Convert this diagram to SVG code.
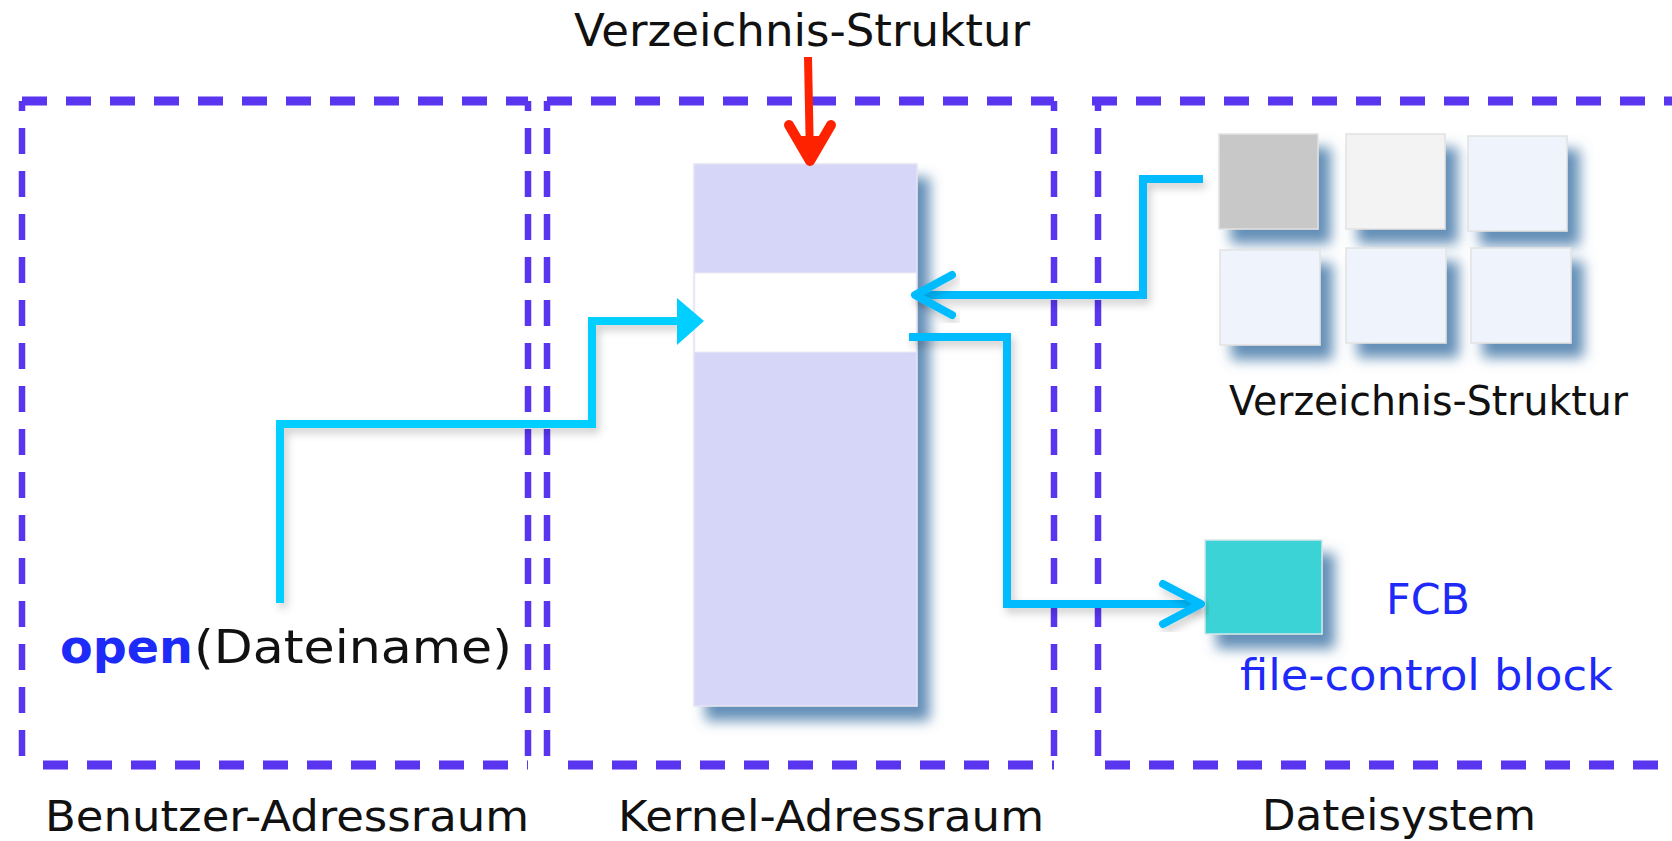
<svg xmlns="http://www.w3.org/2000/svg" width="1672" height="841" viewBox="0 0 1672 841">
<defs>
<style>
.lbl{font-family:"DejaVu Sans","Verdana",sans-serif;fill:#111;}
.blue{font-family:"DejaVu Sans","Verdana",sans-serif;fill:#1e2af8;}
.dh{stroke:#5a35f0;stroke-width:9;stroke-dasharray:25 19;fill:none;}
.dv{stroke:#5a35f0;stroke-width:6.5;stroke-dasharray:26 17;stroke-dashoffset:16;fill:none;}
.sq{stroke:#e2e2e2;stroke-width:1.5;filter:url(#sh);}
.cy1{stroke:#00cfff;stroke-width:8;fill:none;stroke-linejoin:miter;filter:url(#lsh);}
.cy2{stroke:#00bcff;stroke-width:8;fill:none;stroke-linejoin:miter;filter:url(#lsh);}
.chev{stroke-linecap:round;stroke-linejoin:round;}
</style>
<filter id="sh" x="-30%" y="-30%" width="170%" height="170%">
<feDropShadow dx="12" dy="14" stdDeviation="6.5" flood-color="#5a88b3" flood-opacity="0.95"/>
</filter>
<filter id="lsh" x="-20%" y="-20%" width="140%" height="140%">
<feDropShadow dx="3" dy="5" stdDeviation="4" flood-color="#000" flood-opacity="0.2"/>
</filter>
</defs>
<rect width="1672" height="841" fill="#fff"/>

<g id="boxes">
<g id="box-benutzer">
<line class="dh" x1="22" y1="101" x2="528" y2="101"/>
<line class="dh" x1="43" y1="765" x2="528" y2="765"/>
<line class="dv" x1="22" y1="101" x2="22" y2="765"/>
<line class="dv" x1="528" y1="101" x2="528" y2="765"/>
</g>
<g id="box-kernel">
<line class="dh" x1="547" y1="101" x2="1054" y2="101"/>
<line class="dh" x1="568" y1="765" x2="1054" y2="765"/>
<line class="dv" x1="547" y1="101" x2="547" y2="765"/>
<line class="dv" x1="1054" y1="101" x2="1054" y2="765"/>
</g>
<g id="box-dateisystem">
<line class="dh" x1="1092" y1="101" x2="1672" y2="101"/>
<line class="dh" x1="1105" y1="765" x2="1672" y2="765"/>
<line class="dv" x1="1098" y1="101" x2="1098" y2="765"/>
</g>
</g>

<g id="kernel-column">
<rect x="694" y="164" width="223" height="542" fill="#d6d6f9" stroke="#e4e4f0" stroke-width="1.5" filter="url(#sh)"/>
<rect x="694.8" y="273" width="221.4" height="79" fill="#ffffff" stroke="#ececf4" stroke-width="1"/>
</g>

<g id="dir-structure">
<rect class="sq" x="1219" y="134" width="99" height="95" fill="#c8c8c8"/>
<rect class="sq" x="1346" y="134" width="99" height="95" fill="#f3f3f3"/>
<rect class="sq" x="1468" y="136" width="99" height="95" fill="#eff3fb"/>
<rect class="sq" x="1220" y="250" width="100" height="95" fill="#eff3fb"/>
<rect class="sq" x="1346" y="248" width="100" height="95" fill="#eff3fb"/>
<rect class="sq" x="1471" y="248" width="100" height="95" fill="#eff3fb"/>
</g>

<g id="fcb">
<rect x="1205" y="540" width="117" height="94" fill="#3ad3d5" stroke="#d8e8ea" stroke-width="1.5" filter="url(#sh)"/>
</g>

<g id="connectors">
<g id="open-to-kernel">
<polyline class="cy1" points="280,603 280,424 592,424 592,321 680,321"/>
<polygon points="677,298 704,321 677,345" fill="#00cfff"/>
</g>
<g id="dir-to-kernel">
<polyline class="cy2" points="1203,179 1143,179 1143,295 917,295"/>
<polyline class="cy2 chev" points="952,275 915,295 952,315"/>
</g>
<g id="kernel-to-fcb">
<polyline class="cy2" points="909,337 1007,337 1007,604 1199,604"/>
<polyline class="cy2 chev" points="1163,584 1201,604 1163,624"/>
</g>
<g id="title-arrow">
<line x1="808" y1="57" x2="810" y2="160" stroke="#ff2200" stroke-width="8"/>
<polyline points="789,125 810,161 831,125" fill="none" stroke="#ff2200" stroke-width="10" stroke-linecap="round" stroke-linejoin="round"/>
<polygon points="794,136 810,166 826,136" fill="#ff2200"/>
</g>
</g>

<g id="labels">
<text id="title" class="lbl" x="574" y="46" font-size="44" textLength="456" lengthAdjust="spacingAndGlyphs">Verzeichnis-Struktur</text>
<g id="open-call">
<text class="blue" x="60" y="663" font-size="46" font-weight="bold" textLength="133" lengthAdjust="spacingAndGlyphs">open</text>
<text class="lbl" x="194" y="663" font-size="46" textLength="318" lengthAdjust="spacingAndGlyphs">(Dateiname)</text>
</g>
<text class="lbl" x="1229" y="415" font-size="41" textLength="399" lengthAdjust="spacingAndGlyphs" fill="#0e1a33">Verzeichnis-Struktur</text>
<text class="blue" x="1386" y="614" font-size="42" textLength="84" lengthAdjust="spacingAndGlyphs">FCB</text>
<text class="blue" x="1240" y="690" font-size="42" textLength="373" lengthAdjust="spacingAndGlyphs">file-control block</text>
<text class="lbl" x="45" y="831" font-size="43" textLength="484" lengthAdjust="spacingAndGlyphs">Benutzer-Adressraum</text>
<text class="lbl" x="618" y="831" font-size="43" textLength="426" lengthAdjust="spacingAndGlyphs">Kernel-Adressraum</text>
<text class="lbl" x="1262" y="830" font-size="43" textLength="274" lengthAdjust="spacingAndGlyphs">Dateisystem</text>
</g>
</svg>
